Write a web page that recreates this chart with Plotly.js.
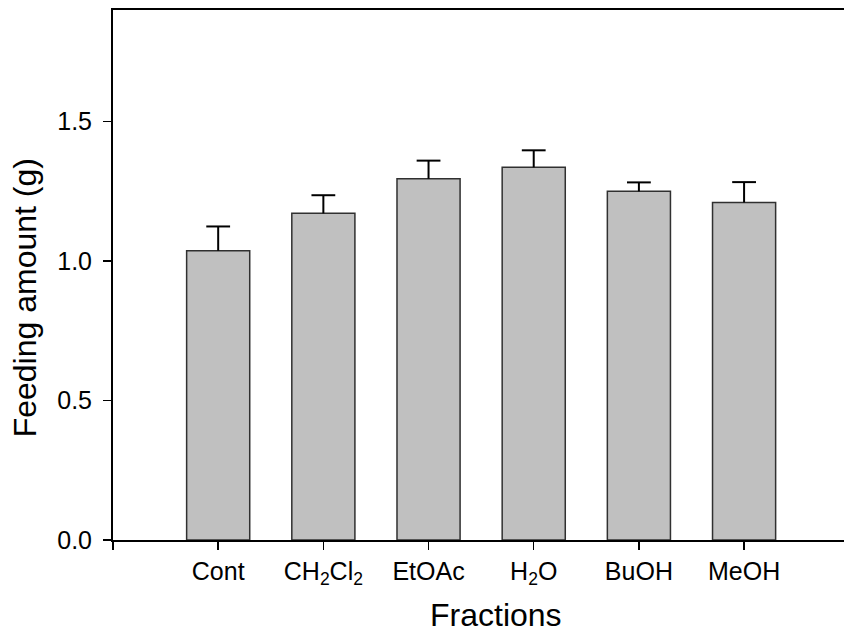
<!DOCTYPE html>
<html>
<head>
<meta charset="utf-8">
<script src="https://cdn.plot.ly/plotly-3.0.1.min.js"></script>
<style>html,body{margin:0;padding:0;background:#fff;}#chart{width:844px;height:635px;}</style>
</head>
<body>
<div id="chart"></div>
<script>
const categories = ["Cont", "CH<sub>2</sub>Cl<sub>2</sub>", "EtOAc", "H<sub>2</sub>O", "BuOH", "MeOH"];
const positions = [1, 2, 3, 4, 5, 6];
const feeding = [1.037, 1.171, 1.295, 1.336, 1.250, 1.210];
const errors = [0.087, 0.065, 0.065, 0.061, 0.032, 0.073];
const zeroErr = [0, 0, 0, 0, 0, 0];
const yTicks = [0, 0.5, 1.0, 1.5];

const font = "Liberation Sans, Arial, sans-serif";
const capTops = feeding.map((v, i) => v + errors[i]);

const bars = {
  type: "bar",
  x: positions,
  y: feeding,
  width: 0.6,
  marker: {color: "#c0c0c0", line: {color: "#303030", width: 1.5}},
  error_y: {type: "data", array: errors, arrayminus: zeroErr, symmetric: false,
            color: "#000", thickness: 2, width: 0},
  hoverinfo: "skip"
};

const caps = {
  type: "scatter",
  mode: "markers",
  x: positions,
  y: capTops,
  marker: {symbol: "line-ew", size: 17, line: {color: "#000", width: 2}},
  hoverinfo: "skip",
  cliponaxis: false
};

const layout = {
  width: 844, height: 635,
  margin: {l: 113, r: 0, t: 10, b: 95},
  paper_bgcolor: "#fff", plot_bgcolor: "#fff",
  showlegend: false,
  font: {family: font, color: "#000"},
  xaxis: {
    range: [0, 6.95],
    tickmode: "array",
    tickvals: [0].concat(positions),
    ticktext: [""].concat(categories),
    ticks: "outside", ticklen: 8, tickwidth: 1.5, tickcolor: "#000",
    showline: true, linecolor: "#000", linewidth: 2, mirror: true,
    showgrid: false, zeroline: false,
    tickfont: {size: 25, family: font, color: "#000"}
  },
  yaxis: {
    range: [0, 1.9],
    tickmode: "array",
    tickvals: yTicks,
    ticktext: yTicks.map(v => v.toFixed(1)),
    ticks: "outside", ticklen: 8, tickwidth: 1.5, tickcolor: "#000",
    showline: true, linecolor: "#000", linewidth: 2,
    showgrid: false, zeroline: false,
    ticklabelstandoff: 6,
    tickfont: {size: 25, family: font, color: "#000"}
  },
  annotations: [
    {text: "Fractions", xref: "paper", yref: "paper", x: 0.524, y: -0.141,
     xanchor: "center", yanchor: "middle", showarrow: false,
     font: {size: 32, family: font, color: "#000"}},
    {text: "Feeding amount (g)", xref: "paper", yref: "paper", x: -0.121, y: 0.457,
     xanchor: "center", yanchor: "middle", textangle: -90, showarrow: false,
     font: {size: 32, family: font, color: "#000"}}
  ]
};

Plotly.newPlot("chart", [bars, caps], layout, {displayModeBar: false, staticPlot: true});
</script>
</body>
</html>
